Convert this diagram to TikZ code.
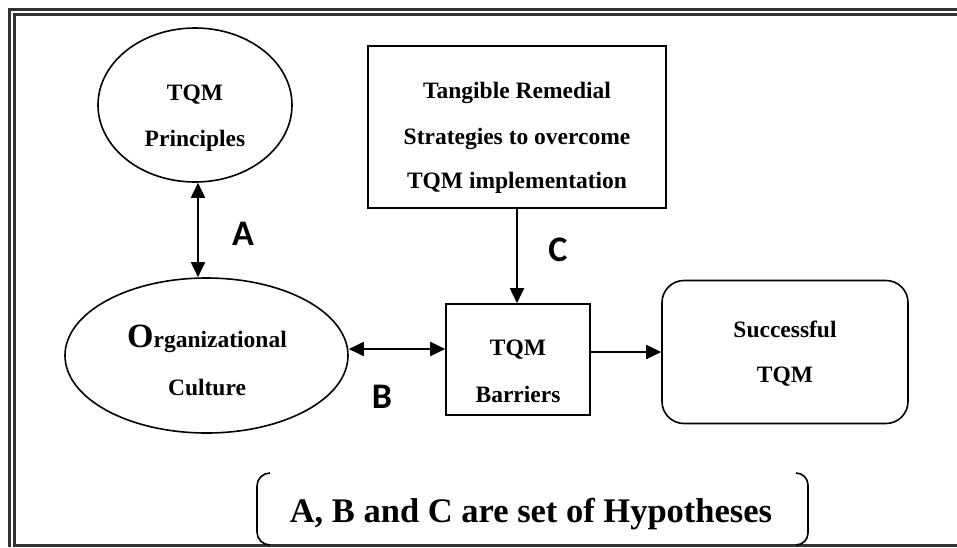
\documentclass[tikz,border=0pt]{standalone}
\usepackage{fontspec}
\setmainfont{Liberation Serif}
\newfontfamily\labfont{Carlito}
\usetikzlibrary{shapes.geometric,arrows.meta}
\definecolor{framegray}{HTML}{333333}
\tikzset{
  shapeline/.style={draw=black,line width=1.6pt},
  ellbox/.style={shapeline,ellipse,inner sep=0pt},
  rectbox/.style={shapeline,rectangle,inner sep=0pt},
  txt/.style={font=\fontsize{23.5}{26}\selectfont\bfseries,anchor=base,inner sep=0pt},
  lab/.style={font=\fontsize{36}{38}\selectfont\labfont\bfseries,inner sep=0pt},
  tip/.tip={Triangle[length=15pt,width=14pt]},
  conn/.style={line width=1.8pt,-tip},
  dconn/.style={line width=1.8pt,tip-tip},
  frameline/.style={draw=framegray,line width=2.6pt}
}
\begin{document}
\begin{tikzpicture}[x=1pt,y=-1pt]
\useasboundingbox (0,0) rectangle (957,547);
% frame
\draw[frameline] (9.3,547) -- (9.3,9.2) -- (957,9.2);
\draw[frameline] (957,545.4) -- (14.7,545.4) -- (14.7,14.2) -- (957,14.2);

% nodes
\node[ellbox,minimum width=194pt,minimum height=154pt] (princ) at (195,105) {};
\node[txt] (princ1) at (195,100) {TQM};
\node[txt] (princ2) at (195,146) {Principles};

\node[ellbox,minimum width=283pt,minimum height=155pt] (org) at (206.5,355.5) {};
\node[txt] (org1) at (207,347) {{\fontsize{34}{36}\selectfont O}rganizational};
\node[txt] (org2) at (207,395) {Culture};

\node[rectbox,minimum width=298pt,minimum height=162pt] (tang) at (517,127) {};
\node[txt] (tang1) at (517,98) {Tangible Remedial};
\node[txt] (tang2) at (517,144) {Strategies to overcome};
\node[txt] (tang3) at (517,188) {TQM implementation};

\node[rectbox,minimum width=144pt,minimum height=111pt] (bar) at (518,359.5) {};
\node[txt] (bar1) at (518,355) {TQM};
\node[txt] (bar2) at (518,402) {Barriers};

\node[rectbox,rounded corners=22pt,minimum width=246pt,minimum height=143pt] (succ) at (785,352) {};
\node[txt] (succ1) at (785,337) {Successful};
\node[txt] (succ2) at (785,382) {TQM};

% connectors
\coordinate (aX) at (198,0);
\coordinate (bY) at (0,349);
\draw[dconn] (aX |- princ.south) -- (aX |- org.north);
\draw[dconn] (org.east |- bY) -- (bar.west |- bY);
\draw[conn] (tang.south) -- (tang.south |- bar.north);
\draw[conn] (bar.east |- succ.west) -- (succ.west);

% labels
\node[lab] (labA) at (243,234) {A};
\node[lab] (labB) at (382,397) {B};
\node[lab] (labC) at (558,250) {C};

% bottom note with brackets
\coordinate (brL) at (257,509);
\coordinate (brR) at (808,509);
\draw[shapeline] (brL) ++(13,-36) arc[start angle=270,end angle=180,radius=13] -- ++(0,46) arc[start angle=180,end angle=90,radius=13];
\draw[shapeline] (brR) ++(-12,-36) arc[start angle=270,end angle=360,radius=12] -- ++(0,48) arc[start angle=0,end angle=90,radius=12];
\node[txt,font=\fontsize{34.5}{36}\selectfont\bfseries] (note) at (531,522) {A, B and C are set of Hypotheses};
\end{tikzpicture}
\end{document}
